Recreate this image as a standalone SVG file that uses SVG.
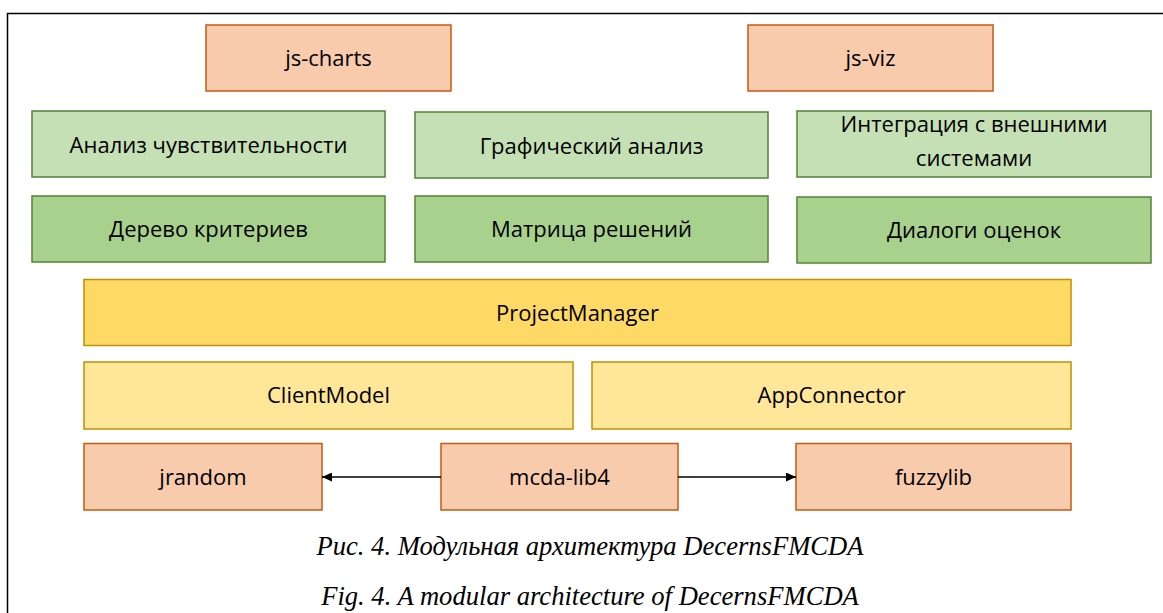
<svg xmlns="http://www.w3.org/2000/svg" width="1163" height="613" viewBox="0 0 1163 613">
<style>
rect{stroke-width:1.5}
.or{fill:#F8CBAD;stroke:#C55A11}
.lg{fill:#C5E0B4;stroke:#548235}
.dg{fill:#A9D18E;stroke:#548235}
.pm{fill:#FFD966;stroke:#BF9000}
.ly{fill:#FFE699;stroke:#BF9000}
.t{font-family:"Open Sans","Liberation Sans",sans-serif;font-size:22px;fill:#000;text-anchor:middle}
.cap{font-family:"Liberation Serif",serif;font-style:italic;font-size:26.6px;fill:#000;text-anchor:middle}
</style>
<defs>
<marker id="ah" viewBox="0 0 10 10" refX="10" refY="5" markerWidth="10" markerHeight="9" markerUnits="userSpaceOnUse" orient="auto" preserveAspectRatio="none">
<path d="M0,0 L10,5 L0,10 z" fill="#000"/>
</marker>
</defs>
<rect width="1163" height="613" fill="#fff" style="stroke:none"/>
<path d="M7.5,613 V13.5 H1163" fill="none" stroke="#000" stroke-width="1.5"/>
<g id="js-charts"><rect class="or" x="206" y="25" width="245" height="66"/><text class="t" x="328.5" y="66">js-charts</text></g>
<g id="js-viz"><rect class="or" x="748" y="25" width="245" height="66"/><text class="t" x="870.5" y="66">js-viz</text></g>
<g id="sens"><rect class="lg" x="32" y="111" width="353" height="66"/><text class="t" x="208.5" y="153">Анализ чувствительности</text></g>
<g id="graph"><rect class="lg" x="415" y="112" width="353" height="66"/><text class="t" x="591.5" y="154">Графический анализ</text></g>
<g id="integ"><rect class="lg" x="797" y="111" width="354" height="66"/><text class="t" x="974" y="131.5">Интеграция с внешними</text><text class="t" x="974" y="166">системами</text></g>
<g id="tree"><rect class="dg" x="32" y="196" width="353" height="66"/><text class="t" x="208.5" y="237">Дерево критериев</text></g>
<g id="matrix"><rect class="dg" x="415" y="196" width="353" height="66"/><text class="t" x="591.5" y="237">Матрица решений</text></g>
<g id="dialogs"><rect class="dg" x="797" y="197" width="354" height="66"/><text class="t" x="974" y="238">Диалоги оценок</text></g>
<g id="pm"><rect class="pm" x="84" y="279.5" width="987" height="66"/><text class="t" x="577.5" y="320.5">ProjectManager</text></g>
<g id="client"><rect class="ly" x="84" y="362" width="489" height="67"/><text class="t" x="328.5" y="403">ClientModel</text></g>
<g id="app"><rect class="ly" x="592" y="362" width="479" height="67"/><text class="t" x="831.5" y="403">AppConnector</text></g>
<g id="jrandom"><rect class="or" x="84" y="443.5" width="238" height="66.5"/><text class="t" x="203" y="485">jrandom</text></g>
<g id="mcda"><rect class="or" x="441" y="443.5" width="237" height="66.5"/><text class="t" x="559.5" y="485">mcda-lib4</text></g>
<g id="fuzzy"><rect class="or" x="796" y="443.5" width="275" height="66.5"/><text class="t" x="933.5" y="485">fuzzylib</text></g>
<g id="connectors" stroke="#000" stroke-width="1.5" fill="none">
<line x1="441" y1="477" x2="322" y2="477" marker-end="url(#ah)"/>
<line x1="678" y1="477" x2="796" y2="477" marker-end="url(#ah)"/>
</g>
<text class="cap" x="590" y="555">Рис. 4. Модульная архитектура DecernsFMCDA</text>
<text class="cap" x="590" y="605">Fig. 4. A modular architecture of DecernsFMCDA</text>
</svg>
